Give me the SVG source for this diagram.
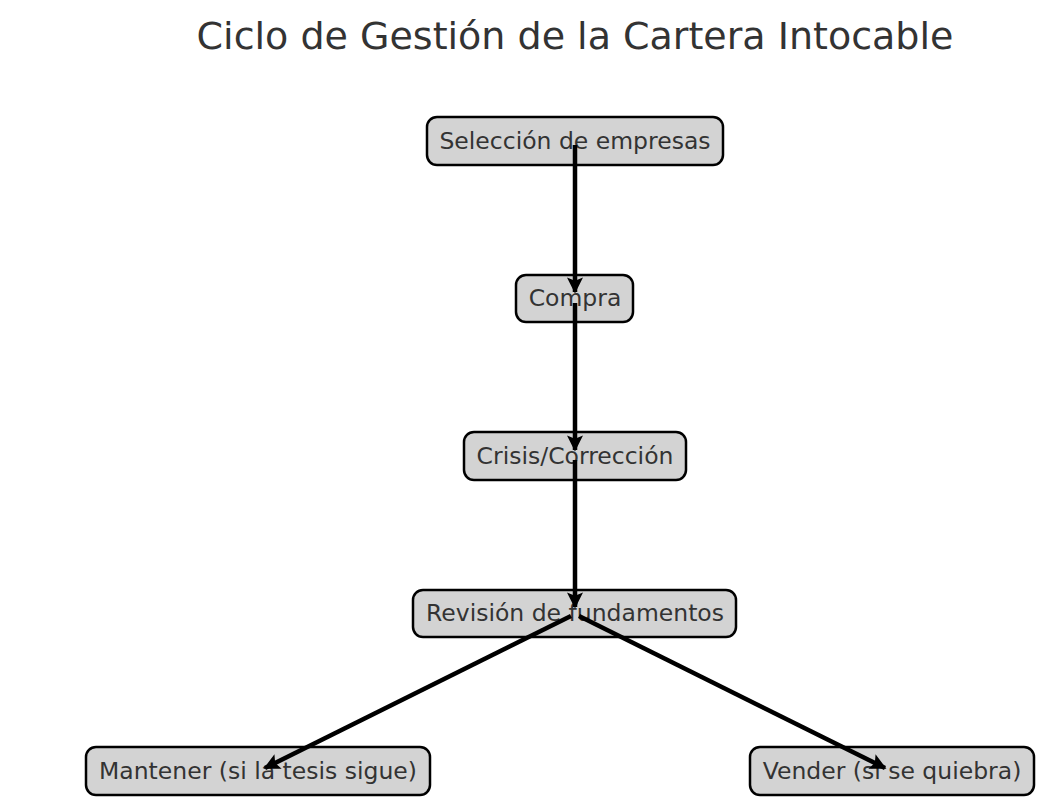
<svg xmlns="http://www.w3.org/2000/svg" width="1061" height="803" viewBox="0 0 1061 803">
<style>
.box{fill:#d3d3d3;stroke:#000;stroke-width:2.5}
.lbl{font-family:"DejaVu Sans",sans-serif;font-size:23.5px;fill:#333;text-anchor:middle;dominant-baseline:central}
.title{font-family:"DejaVu Sans",sans-serif;font-size:38px;fill:#333;text-anchor:middle}
.edge{stroke:#000;stroke-width:4.5;fill:none;marker-end:url(#ah)}
</style>
<defs>
<marker id="ah" viewBox="0 0 10 10" refX="9" refY="5" markerWidth="3.6" markerHeight="3.6" orient="auto" markerUnits="strokeWidth">
<path d="M0,0 L10,5 L0,10 L2,5 z" fill="#000"/>
</marker>
</defs>
<rect width="1061" height="803" fill="#fff"/>
<text class="title" x="575" y="49">Ciclo de Gestión de la Cartera Intocable</text>
<g id="n1"><rect class="box" x="427" y="117" width="296" height="48" rx="10"/><text class="lbl" x="575" y="141">Selección de empresas</text></g>
<g id="n2"><rect class="box" x="516" y="275" width="117" height="47" rx="10"/><text class="lbl" x="575" y="298">Compra</text></g>
<g id="n3"><rect class="box" x="464" y="432" width="222" height="48" rx="10"/><text class="lbl" x="575" y="456">Crisis/Corrección</text></g>
<g id="n4"><rect class="box" x="413" y="590" width="323" height="47" rx="10"/><text class="lbl" x="575" y="613">Revisión de fundamentos</text></g>
<g id="n5"><rect class="box" x="86" y="747" width="344" height="48" rx="10"/><text class="lbl" x="258" y="771">Mantener (si la tesis sigue)</text></g>
<g id="n6"><rect class="box" x="750" y="747" width="284" height="48" rx="10"/><text class="lbl" x="892" y="771">Vender (si se quiebra)</text></g>
<g id="edges">
<line class="edge" x1="575" y1="145" x2="575" y2="292"/>
<line class="edge" x1="575" y1="303" x2="575" y2="450"/>
<line class="edge" x1="575" y1="460" x2="575" y2="607"/>
<line class="edge" x1="571" y1="616" x2="265" y2="768"/>
<line class="edge" x1="579" y1="616" x2="885" y2="768"/>
</g>
</svg>
